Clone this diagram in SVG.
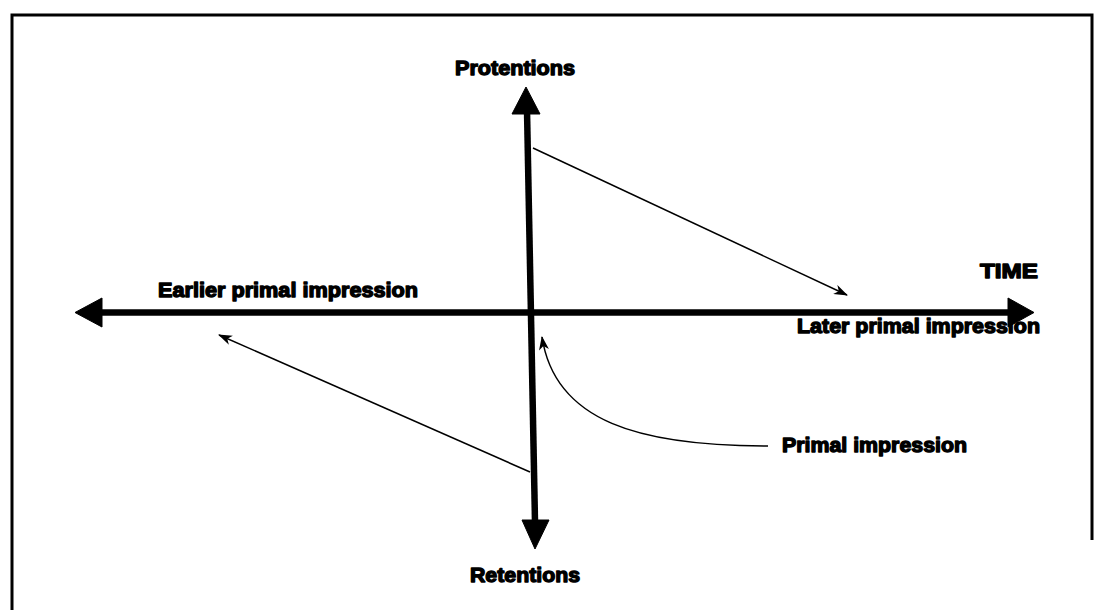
<svg xmlns="http://www.w3.org/2000/svg" width="1098" height="610" viewBox="0 0 1098 610">
  <style>
    .lbl { font-family: "Liberation Sans", Arial, sans-serif; font-weight: bold; font-size: 21px; fill: #000; stroke: #000; stroke-width: 1.4; stroke-linejoin: round; }
    .axis { stroke: #000; stroke-width: 6.5; fill: none; }
    .thin { stroke: #000; stroke-width: 1.5; fill: none; }
    .head { fill: #000; stroke: #000; stroke-width: 1; stroke-linejoin: round; }
  </style>
  <defs>
    <marker id="barb" viewBox="0 0 14 10" refX="13" refY="5" markerWidth="14" markerHeight="10" markerUnits="userSpaceOnUse" orient="auto">
      <path d="M0,0 L14,5 L0,10 L4,5 Z" fill="#000"/>
    </marker>
  </defs>
  <rect x="0" y="0" width="1098" height="610" fill="#fff"/>
  <g id="frame">
    <path d="M12,610 L12,15 L1092,15 L1092,540" fill="none" stroke="#000" stroke-width="3"/>
  </g>
  <g id="connectors">
    <line class="axis" x1="100" y1="312.5" x2="1010" y2="312.5"/>
    <path class="head" d="M75,312.5 L102,298 L102,327 Z"/>
    <path class="head" d="M1034,312.5 L1008,298 L1008,327 Z"/>
    <line class="axis" x1="527" y1="110" x2="535" y2="522"/>
    <path class="head" d="M526,87 L512,114 L540,114 Z"/>
    <path class="head" d="M535,549 L522,520 L549,520 Z"/>
    <line class="thin" x1="533" y1="148" x2="847" y2="295" marker-end="url(#barb)"/>
    <line class="thin" x1="530" y1="472" x2="219" y2="335" marker-end="url(#barb)"/>
    <path class="thin" d="M768,446 C640,446 555,422 542,337" marker-end="url(#barb)"/>
  </g>
  <g id="protentions"><text class="lbl" x="455" y="75" textLength="120" lengthAdjust="spacingAndGlyphs">Protentions</text></g>
  <g id="retentions"><text class="lbl" x="470" y="582" textLength="110" lengthAdjust="spacingAndGlyphs">Retentions</text></g>
  <g id="earlier"><text class="lbl" x="158" y="297" textLength="260" lengthAdjust="spacingAndGlyphs">Earlier primal impression</text></g>
  <g id="time"><text class="lbl" x="980" y="278" font-size="22" textLength="58" lengthAdjust="spacingAndGlyphs">TIME</text></g>
  <g id="later"><text class="lbl" x="797" y="333" textLength="243" lengthAdjust="spacingAndGlyphs">Later primal impression</text></g>
  <g id="primal"><text class="lbl" x="782" y="452" textLength="185" lengthAdjust="spacingAndGlyphs">Primal impression</text></g>
</svg>
